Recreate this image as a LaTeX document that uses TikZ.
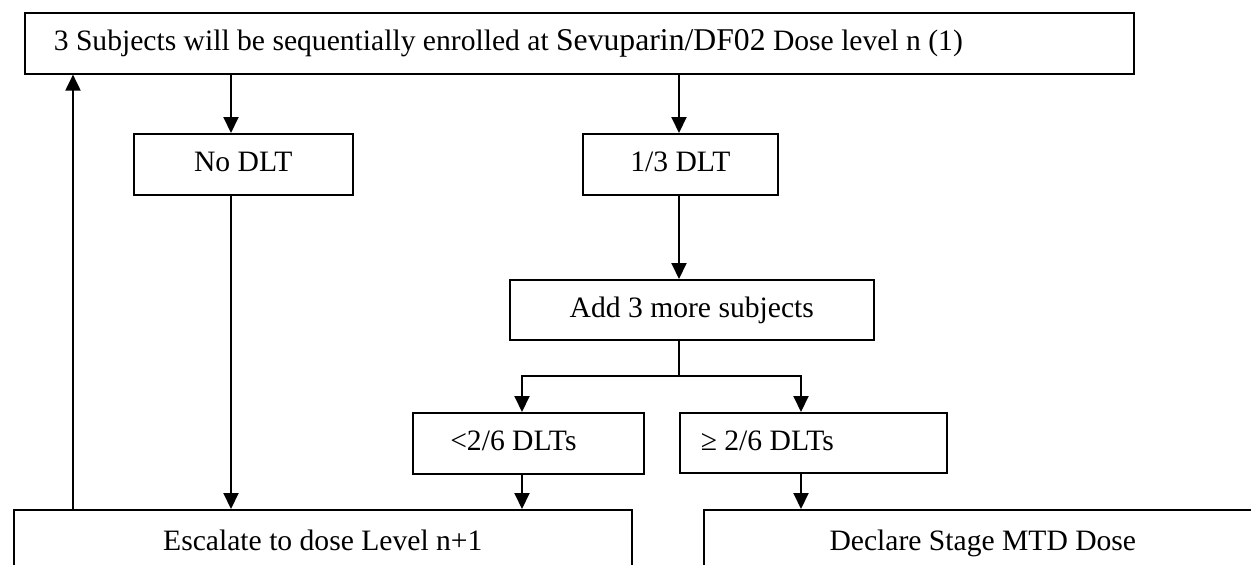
\documentclass[tikz,border=0pt]{standalone}
\usepackage{fontspec}
\setmainfont{Liberation Serif}
\usetikzlibrary{arrows.meta}
\begin{document}
\begin{tikzpicture}[x=1pt,y=-1pt,
  box/.style={draw=black,line width=1.6pt,inner sep=0pt,text height=21pt,text depth=6pt,
    font=\fontsize{29.6}{34}\selectfont},
  arr/.style={line width=2pt,-{Triangle[length=16pt,width=15pt]}},
  ln/.style={line width=2pt}]
\useasboundingbox (0,0) rectangle (1251,565);
\node[box,anchor=north west,minimum height=61pt,text width=1051pt,inner xsep=29pt,align=flush left] (top) at (24,12)
  {3 Subjects will be sequentially enrolled at {\fontsize{31.7}{34}\selectfont Sevuparin/DF02} Dose level n (1)};
\node[box,anchor=north west,minimum width=219pt,minimum height=61pt] (nodlt) at (133,133) {No DLT};
\node[box,anchor=north west,minimum width=195pt,minimum height=61pt] (one) at (582,133) {1/3 DLT};
\node[box,anchor=north west,minimum width=364pt,minimum height=60pt] (add) at (509,279) {Add 3 more subjects};
\node[box,anchor=north west,minimum width=231pt,minimum height=61pt,text width=206pt,inner xsep=0pt,align=flush left] (lt) at (412,412) {\hspace*{25pt}<2/6 DLTs};
\node[box,anchor=north west,minimum width=267pt,minimum height=60pt,text width=253pt,align=flush left] (ge) at (679,412) {\hspace*{14pt}≥ 2/6 DLTs};
\node[box,anchor=north west,minimum width=618pt,minimum height=66pt] (esc) at (13,509) {Escalate to dose Level n+1};
\node[box,anchor=north west,minimum width=558pt,minimum height=66pt] (dec) at (703,509) {Declare Stage MTD Dose};
\coordinate (xa) at (231,0);
\coordinate (xb) at (679,0);
\coordinate (xl) at (522,0);
\coordinate (xr) at (801,0);
\coordinate (xu) at (73,0);
\coordinate (split) at (679,376);
\draw[arr] (top.south -| xa) -- (nodlt.north -| xa);
\draw[arr] (top.south -| xb) -- (one.north -| xb);
\draw[arr] (nodlt.south -| xa) -- (esc.north -| xa);
\draw[arr] (one.south -| xb) -- (add.north -| xb);
\draw[ln] (add.south -| split) -- (split);
\draw[arr] (split) -| (lt.north -| xl);
\draw[arr] (split) -| (ge.north -| xr);
\draw[arr] (lt.south -| xl) -- (esc.north -| xl);
\draw[arr] (ge.south -| xr) -- (dec.north -| xr);
\draw[arr] (esc.north -| xu) -- (top.south -| xu);
\end{tikzpicture}
\end{document}
